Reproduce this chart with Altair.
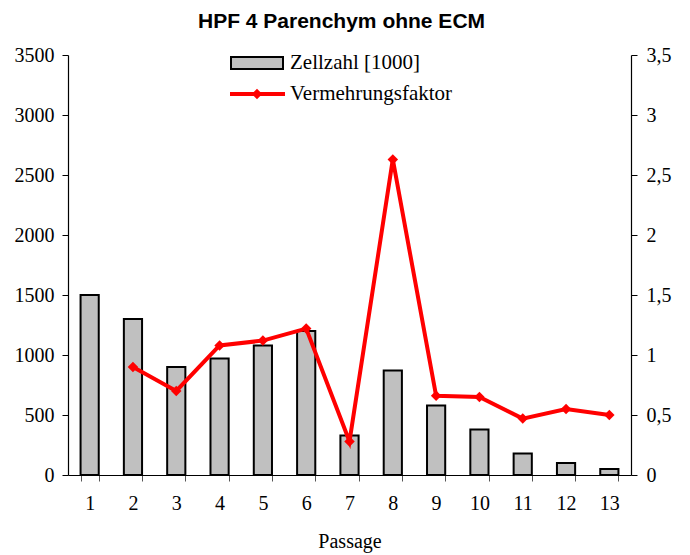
import altair as alt
import pandas as pd

passage = list(range(1, 14))
zellzahl = [1500, 1300, 900, 970, 1080, 1200, 330, 870, 580, 380, 180, 100, 50]
faktor = [None, 0.9, 0.7, 1.08, 1.12, 1.22, 0.28, 2.63, 0.66, 0.65, 0.47, 0.55, 0.50]
left_ticks = [0, 500, 1000, 1500, 2000, 2500, 3000, 3500]
right_ticks = [0, 0.5, 1, 1.5, 2, 2.5, 3, 3.5]
legend_labels = ["Zellzahl [1000]", "Vermehrungsfaktor"]

df = pd.DataFrame({"Passage": passage, "Zellzahl": zellzahl, "Faktor": faktor})
one = pd.DataFrame({"k": [0]})

SERIF = "Liberation Serif"

xenc = alt.X(
    "Passage:O",
    title="Passage",
    scale=alt.Scale(paddingInner=0.58, paddingOuter=0.29),
    axis=alt.Axis(labelAngle=0, tickBand="extent", tickSize=6, labelPadding=12,
                  titlePadding=18, tickColor="#555"),
)

bars = alt.Chart(df).mark_bar(fill="#c0c0c0", stroke="black", strokeWidth=2).encode(
    x=xenc,
    y=alt.Y("Zellzahl:Q", scale=alt.Scale(domain=[0, 3500], nice=False),
            axis=alt.Axis(values=left_ticks, title=None, grid=False, format="d",
                          tickSize=6, labelPadding=8)),
)

yr = alt.Y("Faktor:Q", scale=alt.Scale(domain=[0, 3.5], nice=False),
           axis=alt.Axis(orient="right", values=right_ticks, title=None, grid=False,
                         labelExpr="replace(format(datum.value, '~g'), '.', ',')",
                         tickSize=6, labelPadding=9))

line = alt.Chart(df).mark_line(color="red", strokeWidth=4).encode(x=xenc, y=yr)
pts = alt.Chart(df).mark_point(shape="diamond", filled=True, color="red", size=110, opacity=1).encode(x=xenc, y=yr)

right = alt.layer(line, pts)

leg_rect = alt.Chart(one).mark_rect(fill="#c0c0c0", stroke="black", strokeWidth=2).encode(
    x=alt.value(163), x2=alt.value(215), y=alt.value(2), y2=alt.value(14))
leg_line = alt.Chart(one).mark_rule(color="red", strokeWidth=4).encode(
    x=alt.value(162), x2=alt.value(217), y=alt.value(39))
leg_pt = alt.Chart(one).mark_point(shape="diamond", filled=True, color="red", size=110, opacity=1).encode(
    x=alt.value(189), y=alt.value(39))
leg_t1 = alt.Chart(one).mark_text(text=legend_labels[0], font=SERIF, fontSize=21, align="left",
                                  baseline="middle", color="black").encode(x=alt.value(222), y=alt.value(8))
leg_t2 = alt.Chart(one).mark_text(text=legend_labels[1], font=SERIF, fontSize=21, align="left",
                                  baseline="middle", color="black").encode(x=alt.value(222), y=alt.value(39))

chart = alt.layer(bars, right, leg_rect, leg_line, leg_pt, leg_t1, leg_t2).resolve_scale(
    y="independent"
).properties(
    width=563, height=420,
    title=alt.Title("HPF 4 Parenchym ohne ECM", font="Liberation Sans", fontSize=21,
                    fontWeight="bold", anchor="middle", color="black", offset=13, dx=-8),
    padding={"left": 6, "top": 3, "right": 5, "bottom": 5},
).configure_view(stroke=None).configure_axis(
    domainColor="black", tickColor="black", labelFont=SERIF, labelFontSize=20,
    labelColor="black", titleFont=SERIF, titleFontSize=20, titleColor="black",
    titleFontWeight="normal", domainWidth=1.2,
)

chart.save("out.html", embed_options={"renderer": "svg", "actions": False})
